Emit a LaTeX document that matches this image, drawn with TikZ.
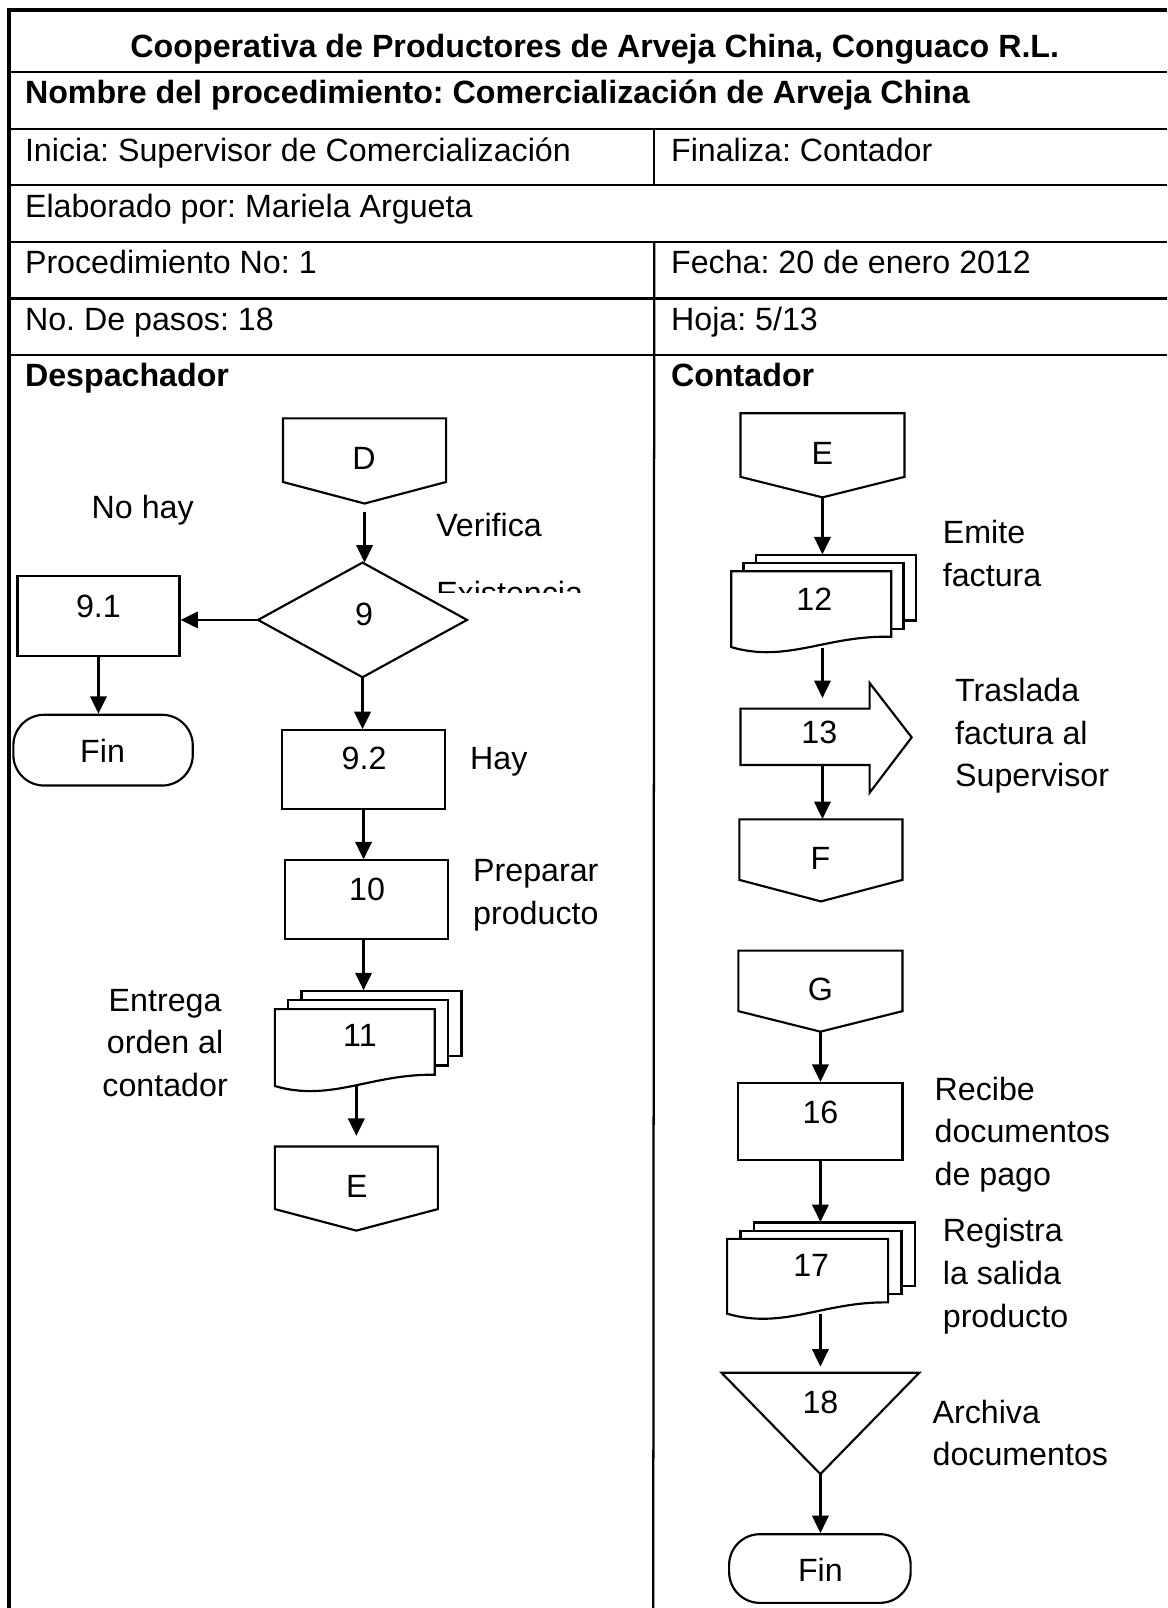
\documentclass[tikz,border=0pt]{standalone}
\usepackage{fontspec}
\setmainfont{Liberation Sans}
\usetikzlibrary{arrows.meta,fit}
\frenchspacing
\newcommand\fsz{\fontsize{15.7pt}{20.75pt}\selectfont\frenchspacing}
\newcommand\mlL[1]{\begin{tabular}[t]{@{}l@{}}#1\end{tabular}}
\newcommand\mlC[1]{\begin{tabular}[t]{@{}c@{}}#1\end{tabular}}
% off-page connector: name, x1, x2, ytop, yside, ypoint
\newcommand\offpage[6]{%
  \draw[shp] (#2,#4) -- (#3,#4) -- (#3,#5) -- ({(#2+#3)/2},#6) -- (#2,#5) -- cycle;
  \node[hold, fit={(#2,#4) (#3,#6)}] (#1) {};}
% multi-document: name, x1, x2, ytop, ybottomleft, ybottomright, dx, dy
\newcommand\multidoc[8]{%
  \draw[shp,fill=white] ({#2+2*#7},{#4-2*#8}) rectangle ({#3+2*#7},{#6-2*#8});
  \draw[shp,fill=white] ({#2+#7},{#4-#8}) rectangle ({#3+#7},{#6-#8});
  \draw[shp,fill=white] (#2,#4) -- (#3,#4) -- (#3,#6) .. controls ({#2+0.6*(#3-#2)},{#5-12}) and ({#2+0.35*(#3-#2)},{#5+16}) .. (#2,#5) -- cycle;
  \node[hold, fit={(#2,{#4-2*#8}) ({#3+2*#7},#5)}] (#1) {};}
\tikzset{
  shp/.style={draw, line width=1.05pt},
  arr/.style={draw, line width=1.15pt, -{Triangle[length=8.5pt,width=8pt]}},
  tbl/.style={line width=1.1pt},
  txt/.style={font=\fsz, inner sep=0pt, anchor=base},
  txl/.style={font=\fsz, inner sep=0pt, anchor=base west},
  hdr/.style={font=\fsz\bfseries, inner sep=0pt, anchor=base west},
  box/.style={shp, inner sep=0pt},
  hold/.style={inner sep=0pt},
}
\begin{document}
\begin{tikzpicture}[x=0.5pt,y=-0.5pt]
\useasboundingbox (0,0) rectangle (1138,1568);
% ---------- table ----------
\draw[line width=2pt] (9,1568) -- (9,10) -- (1138,10);
\foreach \yy in {70,125.5,180.5,236,291,346.5} \draw[tbl] (9,\yy) -- (1138,\yy);
\draw[tbl] (638,125.5) -- (638,180.5);
\draw[tbl] (638,236) -- (637,1568);
\node[font=\fsz\bfseries, inner sep=0pt, anchor=base] (title) at (580,56) {Cooperativa de Productores de Arveja China, Conguaco R.L.};
\node[hdr] (nombre) at (24,101) {Nombre del procedimiento: Comercialización de Arveja China};
\node[txl] (inicia) at (24,157) {Inicia: Supervisor de Comercialización};
\node[txl] (finaliza) at (654,157) {Finaliza: Contador};
\node[txl] (elab) at (24,212) {Elaborado por: Mariela Argueta};
\node[txl] (procno) at (24,267) {Procedimiento No: 1};
\node[txl] (fecha) at (654,267) {Fecha: 20 de enero 2012};
\node[txl] (pasos) at (24,322) {No. De pasos: 18};
\node[txl] (hoja) at (654,322) {Hoja: 5/13};
\node[hdr] (despachador) at (24,377) {Despachador};
\node[hdr] (contador) at (654,377) {Contador};
% ---------- left lane ----------
\offpage{D}{276}{435}{408}{470}{491}
\node[txt] (tD) at (355,458) {D};
\node[hold, fit={(252,549) (455,660)}] (n9) {};
\draw[shp] (n9.north) -- (n9.east) -- (n9.south) -- (n9.west) -- cycle;
\node[txt] (t9) at (355,610) {9};
\node[box, fit={(17,562) (175,640)}] (n91) {};
\node[txt] (t91) at (96,602) {9.1};
\node[box, fit={(13,697) (188,766)}, rounded corners=15pt] (fin1) {};
\node[txt] (tfin1) at (100,744) {Fin};
\node[box, fit={(275,712) (434,789)}] (n92) {};
\node[txt] (t92) at (355,750) {9.2};
\node[box, fit={(278,839) (437,916)}] (n10) {};
\node[txt] (t10) at (358,878) {10};
\multidoc{d11}{268}{424}{984}{1059}{1048}{13}{9}
\node[txt] (t11) at (351,1020) {11};
\offpage{E1}{268}{427}{1118}{1179}{1200}
\node[txt] (tE1) at (348,1168) {E};
\node[txl] (nohay) at (89,506) {No hay};
\node[txl] (verifica) at (425,523) {Verifica};
\begin{scope}
  \clip (415,550) rectangle (600,578);
  \node[txl] (existencia) at (425,589) {Existencia};
\end{scope}
\node[txl] (hay) at (458,750) {Hay};
\node[txl] (preparar) at (461,860) {\mlL{Preparar\\producto}};
\node[txt] (entrega) at (161,986) {\mlC{Entrega\\orden al\\contador}};
\draw[arr, shorten <=4pt] (D.south) -- (D.south |- n9.north);
\draw[arr] (n9.west) -- (n9.west -| n91.east);
\draw[arr] (n91.south) -- (n91.south |- fin1.north);
\draw[arr] (n9.south) -- (n9.south |- n92.north);
\draw[arr] (n92.south) -- (n92.south |- n10.north);
\draw[arr] (n92.south |- n10.south) -- (n92.south |- d11.north);
\draw[arr, shorten >=5pt] (E1.north |- d11.south) -- (E1.north);
% ---------- right lane ----------
\offpage{E2}{722}{882}{403}{465}{485}
\node[txt] (tE2) at (802,453) {E};
\multidoc{d12}{713}{869}{557}{631}{621}{12}{8}
\node[txt] (t12) at (794,595) {12};
\node[hold, fit={(722,691) (848,746)}] (a13) {};
\draw[shp] (722,691) -- (848,691) -- (848,666) -- (889,719) -- (848,773) -- (848,746) -- (722,746) -- cycle;
\node[txt] (t13) at (799,725) {13};
\offpage{F}{721}{880}{799}{858}{879}
\node[txt] (tF) at (800,848) {F};
\offpage{G}{720}{880}{927}{986}{1006}
\node[txt] (tG) at (800,976) {G};
\node[box, fit={(720,1056) (880,1131)}] (n16) {};
\node[txt] (t16) at (800,1096) {16};
\multidoc{d17}{709}{866}{1208}{1281}{1270}{13}{8}
\node[txt] (t17) at (791,1245) {17};
\node[hold, fit={(704,1339) (896,1437)}] (t18) {};
\draw[shp] (t18.north west) -- (t18.north east) -- (t18.south) -- cycle;
\node[txt] (tt18) at (800,1378) {18};
\node[box, fit={(711,1496) (888,1563)}, rounded corners=15pt] (fin2) {};
\node[txt] (tfin2) at (800,1542) {Fin};
\node[txl] (emite) at (919,530) {\mlL{Emite\\factura}};
\node[txl] (traslada) at (931,684) {\mlL{Traslada\\factura al\\Supervisor}};
\node[txl] (recibe) at (911,1073) {\mlL{Recibe\\documentos\\de pago}};
\node[txl] (registra) at (919,1211) {\mlL{Registra\\la salida\\producto}};
\node[txl] (archiva) at (909,1388) {\mlL{Archiva\\documentos}};
\draw[arr] (E2.south) -- (E2.south |- d12.north);
\draw[arr, shorten >=5pt] (E2.south |- d12.south) -- (E2.south |- a13.north);
\draw[arr] (E2.south |- a13.south) -- (E2.south |- F.north);
\draw[arr] (G.south) -- (G.south |- n16.north);
\draw[arr] (n16.south) -- (n16.south |- d17.north);
\draw[arr, shorten >=3pt] (n16.south |- d17.south) -- (n16.south |- t18.north);
\draw[arr] (t18.south) -- (t18.south |- fin2.north);
\end{tikzpicture}
\end{document}
